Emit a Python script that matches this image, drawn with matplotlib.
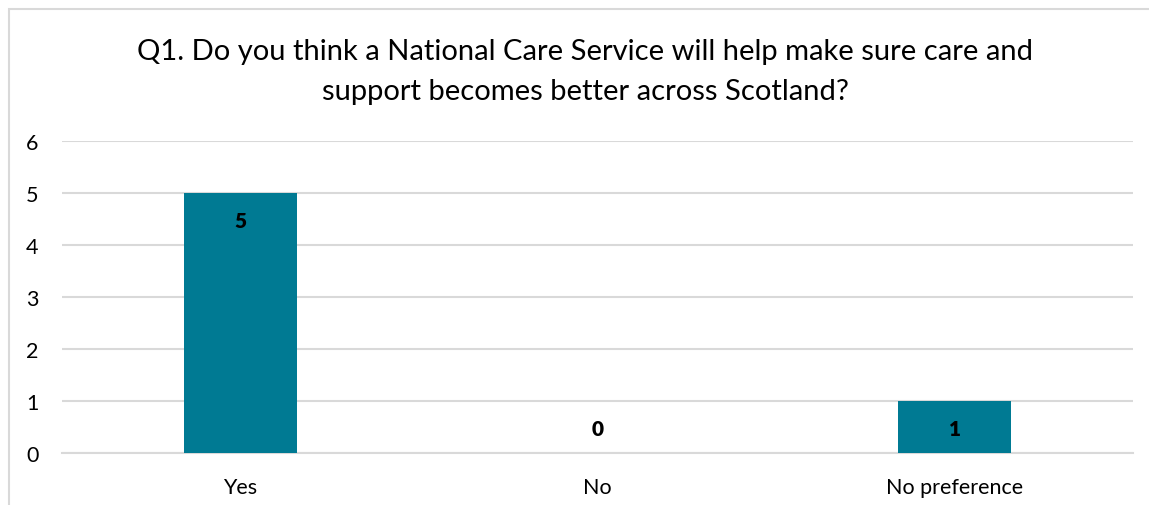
import matplotlib.pyplot as plt
from matplotlib.patches import Rectangle

answers = ["Yes", "No", "No preference"]
counts = [5, 0, 1]
y_ticks = [0, 1, 2, 3, 4, 5, 6]

title = ("Q1. Do you think a National Care Service will help make sure care and\n"
         "support becomes better across Scotland?")

plt.rcParams['font.family'] = ['Lato', 'DejaVu Sans']

fig = plt.figure(figsize=(11.49, 5.06), dpi=100)

# chart frame, cut off on the right and bottom
fig.patches.append(Rectangle((9 / 1149, -0.1), 1.2, 1 - 10 / 506 + 0.1,
                             transform=fig.transFigure, fill=False,
                             edgecolor="#d9d9d9", linewidth=1.5))

ax = fig.add_axes([62 / 1149, 1 - 454 / 506, (1133 - 62) / 1149, (454 - 142) / 506])
bars = ax.bar(range(len(answers)), counts, width=0.317, color="#007a93", zorder=3)
ax.set_xlim(-0.5, len(answers) - 0.5)
ax.set_ylim(0, 6)
ax.set_yticks(y_ticks)
ax.set_xticks(range(len(answers)))
ax.set_xticklabels(answers)
ax.tick_params(axis="both", length=0, labelsize=15.5, colors="#000000")
ax.tick_params(axis="y", pad=17)
ax.tick_params(axis="x", pad=17)
ax.grid(axis="y", color="#d9d9d9", linewidth=1.5, zorder=0)
for side in ["top", "right", "left"]:
    ax.spines[side].set_visible(False)
ax.spines["bottom"].set_color("#d9d9d9")
ax.spines["bottom"].set_linewidth(1.5)

# value labels just inside the bar top (above the axis for zero)
for bar, val in zip(bars, counts):
    offset = 25 if val == 0 else -28
    ax.annotate(str(val), (bar.get_x() + bar.get_width() / 2, val),
                xytext=(0, offset), textcoords="offset pixels",
                ha="center", va="center", fontsize=15, fontweight="heavy")

fig.text(585 / 1149, 1 - 72 / 506, title, ha="center", va="center",
         fontsize=21, linespacing=1.65)

fig.savefig("out.png", dpi=100)
